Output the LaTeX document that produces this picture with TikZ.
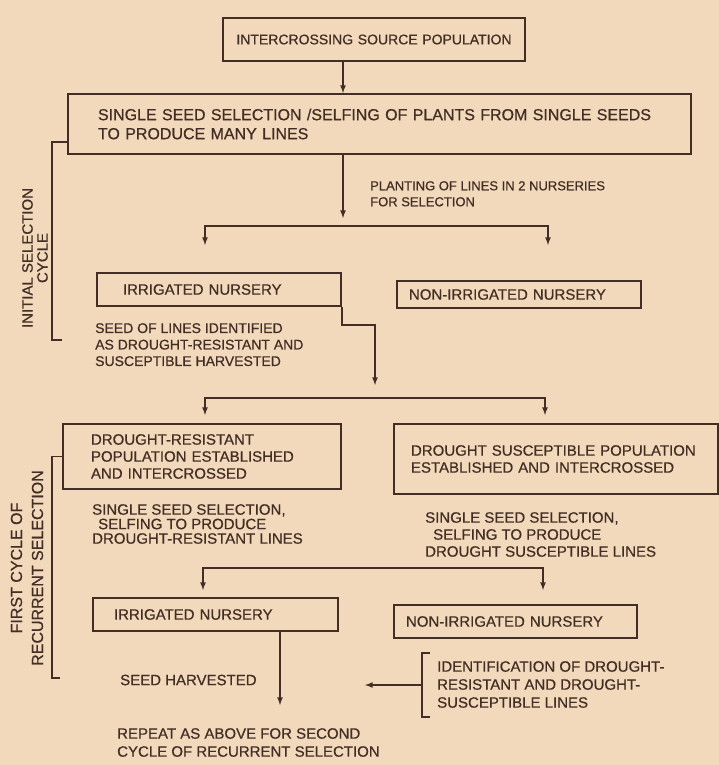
\documentclass[tikz,border=0pt]{standalone}
\usepackage{fontspec}
\setmainfont{Liberation Sans}[FakeBold=0.6]
\usepackage{tikz}
\usetikzlibrary{arrows}
\usetikzlibrary{positioning}
\definecolor{paper}{RGB}{242,217,188}
\definecolor{ink}{RGB}{66,46,36}
\newcommand{\nfont}{\fontsize{15}{17}\selectfont}
\tikzstyle{nbox}=[draw=ink,line width=2pt,anchor=north west,inner xsep=26pt,
                inner ysep=0pt,align=left,text=ink]
\tikzstyle{ntxt}=[anchor=north west,inner sep=0pt,align=left,text=ink]
\tikzstyle{side}=[rotate=90,align=center,inner sep=0pt,text=ink]
\tikzstyle{hit}=[->,>=latex,draw=ink,line width=1.6pt]
\tikzstyle{brace}=[draw=ink,line width=1.6pt]

\begin{document}
\begin{tikzpicture}[x=1pt,y=-1pt,font=\nfont]
\fill[paper] (0,0) rectangle (719,765);
\useasboundingbox (0,0) rectangle (719,765);

% initial selection cycle
\node[nbox,align=center,inner xsep=0pt,text width=302pt,minimum height=43pt,
      font=\fontsize{14}{17}\selectfont] (src) at (222,17) {INTERCROSSING SOURCE POPULATION};
\node[nbox,inner xsep=30pt,text width=563pt,minimum height=60pt,
      font=\fontsize{16}{19}\selectfont] (sss) at (67,93)
      {SINGLE SEED SELECTION /SELFING OF PLANTS FROM SINGLE SEEDS\\TO PRODUCE MANY LINES};
\node[ntxt,font=\fontsize{13}{16}\selectfont] (plant) at (370,181)
      {PLANTING OF LINES IN 2 NURSERIES\\FOR SELECTION};
\node[nbox,text width=192pt,minimum height=33pt] (irr) at (96,272) {IRRIGATED NURSERY};
\node[nbox,inner xsep=12pt,text width=220pt,minimum height=27pt] (nirr) at (396,280)
      {NON-IRRIGATED NURSERY};
\node[ntxt,font=\fontsize{14}{16.5}\selectfont] (seed) at (95,323)
      {SEED OF LINES IDENTIFIED\\AS DROUGHT-RESISTANT AND\\SUSCEPTIBLE HARVESTED};
\node[side,font=\fontsize{15}{15}\selectfont] (isc) at (35,258) {INITIAL SELECTION\\CYCLE};

% first cycle of recurrent selection
\node[nbox,inner xsep=28pt,text width=222pt,minimum height=65pt] (dr) at (62,423)
      {DROUGHT-RESISTANT\\POPULATION ESTABLISHED\\AND INTERCROSSED};
\node[nbox,inner xsep=17pt,text width=290pt,minimum height=70pt] (ds) at (393,423)
      {DROUGHT SUSCEPTIBLE POPULATION\\ESTABLISHED AND INTERCROSSED};
\node[ntxt,font=\fontsize{15}{14.5}\selectfont] (ssl) at (92,504)
      {SINGLE SEED SELECTION,\\\hspace*{6pt}SELFING TO PRODUCE\\DROUGHT-RESISTANT LINES};
\node[ntxt,font=\fontsize{15}{17}\selectfont] (ssr) at (425,512)
      {SINGLE SEED SELECTION,\\\hspace*{8pt}SELFING TO PRODUCE\\DROUGHT SUSCEPTIBLE LINES};
\node[nbox,inner xsep=21pt,text width=203pt,minimum height=33pt] (irr2) at (92,597)
      {IRRIGATED NURSERY};
\node[nbox,inner xsep=12pt,text width=219pt,minimum height=33pt] (nirr2) at (393,604)
      {NON-IRRIGATED NURSERY};
\node[ntxt,anchor=west] (harv) at (120,680) {SEED HARVESTED};
\node[ntxt,font=\fontsize{15}{18}\selectfont] (ident) at (437,661)
      {IDENTIFICATION OF DROUGHT-\\RESISTANT AND DROUGHT-\\SUSCEPTIBLE LINES};
\node[ntxt,font=\fontsize{15}{18}\selectfont] (rep) at (117,728)
      {REPEAT AS ABOVE FOR SECOND\\CYCLE OF RECURRENT SELECTION};
\node[side,font=\fontsize{16}{21}\selectfont] (fcr) at (27,568) {FIRST CYCLE OF\\RECURRENT SELECTION};

\coordinate (ax) at (343,218);
\coordinate (f1l) at (205,245); \coordinate (f1) at (376,226); \coordinate (f1r) at (548,245);
\coordinate (f2l) at (205,415); \coordinate (f2) at (375,398); \coordinate (f2r) at (545,415);
\coordinate (f3l) at (203,590); \coordinate (f3) at (375,568); \coordinate (f3r) at (543,590);
\coordinate (f2t) at (375,385);
\coordinate (sh) at (280,705);
\coordinate (b1b) at (62,340);
\coordinate (b2b) at (60,678);
\coordinate (b3t) at (430,653); \coordinate (b3b) at (430,717);
\coordinate (b3m) at (422,685); \coordinate (b3a) at (365,685);

\draw[hit] (src.south -| ax) -- (sss.north -| ax);
\draw[hit] (sss.south -| ax) -- (ax);
\draw[hit,<->] (f1l) |- (f1) -| (f1r);
\draw[hit] (irr.south east) -- ++(0,18) -| (f2t);
\draw[hit,<->] (f2l) |- (f2) -| (f2r);
\draw[hit,<->] (f3l) |- (f3) -| (f3r);
\draw[hit] (irr2.south -| sh) -- (sh);
\draw[hit] (b3m) -- (b3a);

\draw[brace] ([yshift=-18pt]sss.west) -- ++(-15,0) |- (b1b);
\draw[brace] (dr.west) -- ++(-10,0) |- (b2b);
\draw[brace] (b3t) -- ++(-8,0) |- (b3b);

\end{tikzpicture}
\end{document}
